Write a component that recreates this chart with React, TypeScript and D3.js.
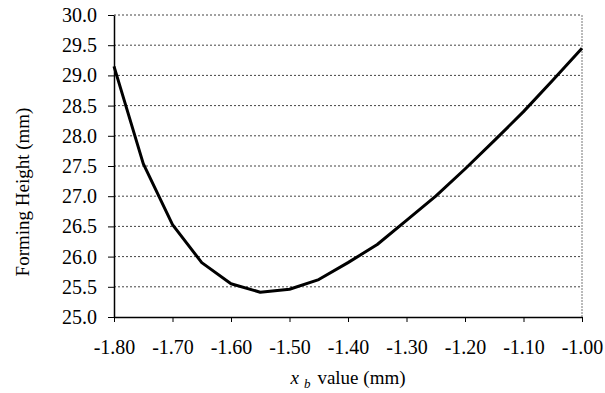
import React, { useEffect, useRef } from "react";
import * as d3 from "d3";

// x_b values (mm) and forming height (mm)
const xbValues = [-1.8, -1.75, -1.7, -1.65, -1.6, -1.55, -1.5, -1.45, -1.4, -1.35, -1.3, -1.25, -1.2, -1.15, -1.1, -1.05, -1.0];
const heights = [29.15, 27.54, 26.53, 25.9, 25.55, 25.41, 25.46, 25.62, 25.9, 26.2, 26.6, 27.0, 27.45, 27.92, 28.4, 28.92, 29.45];
const xTicks = [-1.8, -1.7, -1.6, -1.5, -1.4, -1.3, -1.2, -1.1, -1.0];
const yTicks = [25.0, 25.5, 26.0, 26.5, 27.0, 27.5, 28.0, 28.5, 29.0, 29.5, 30.0];

const W = 605;
const H = 393;
const margin = { top: 15, right: 23, bottom: 76, left: 114 };
const font = "Liberation Serif, Times New Roman, serif";

const App = () => {
    const svgRef = useRef<SVGSVGElement | null>(null);

    useEffect(() => {
        const svg = d3.select(svgRef.current);
        svg.selectAll("*").remove();

        const x = d3.scaleLinear().domain([-1.8, -1.0]).range([margin.left, W - margin.right]);
        const y = d3.scaleLinear().domain([25, 30]).range([H - margin.bottom, margin.top]);

        svg.append("rect").attr("width", W).attr("height", H).attr("fill", "#fff");

        // dotted gridlines
        svg.append("g")
            .selectAll("line")
            .data(yTicks.filter(d => d > 25))
            .enter()
            .append("line")
            .attr("x1", x(-1.8))
            .attr("x2", x(-1.0))
            .attr("y1", d => y(d))
            .attr("y2", d => y(d))
            .attr("stroke", "#444")
            .attr("stroke-width", 1)
            .attr("stroke-dasharray", "2,2");

        // right border
        svg.append("line")
            .attr("x1", x(-1.0)).attr("x2", x(-1.0))
            .attr("y1", y(30)).attr("y2", y(25))
            .attr("stroke", "#777")
            .attr("stroke-dasharray", "2,1");

        // x axis
        const xAxis = d3.axisBottom(x)
            .tickValues(xTicks)
            .tickSize(5)
            .tickSizeOuter(0)
            .tickFormat(d3.format(".2f"));
        const gx = svg.append("g")
            .attr("transform", `translate(0, ${y(25)})`)
            .call(xAxis);
        gx.attr("font-family", font);
        gx.select(".domain").attr("stroke", "#000").attr("stroke-width", 1.5);
        gx.selectAll(".tick line").attr("stroke", "#000");
        gx.selectAll("text")
            .attr("y", 23)
            .attr("fill", "#000")
            .style("font-family", font)
            .style("font-size", "20px")
            .text((d: any) => d3.format(".2f")(d).replace("−", "-"));

        // y axis
        const yAxis = d3.axisLeft(y)
            .tickValues(yTicks)
            .tickSize(6)
            .tickSizeOuter(0)
            .tickFormat(d3.format(".1f"));
        const gy = svg.append("g")
            .attr("transform", `translate(${x(-1.8)}, 0)`)
            .call(yAxis);
        gy.attr("font-family", font);
        gy.select(".domain").attr("stroke", "#000").attr("stroke-width", 1.5);
        gy.selectAll(".tick line").attr("stroke", "#000");
        gy.selectAll("text")
            .attr("x", -17)
            .attr("fill", "#000")
            .style("font-family", font)
            .style("font-size", "20px");

        // curve
        const pts = xbValues.map((v, i) => [v, heights[i]] as [number, number]);
        svg.append("path")
            .datum(pts)
            .attr("fill", "none")
            .attr("stroke", "#000")
            .attr("stroke-width", 3)
            .attr("stroke-linejoin", "round")
            .attr("d", d3.line<[number, number]>().x(d => x(d[0])).y(d => y(d[1])));

        // axis titles
        const xt = svg.append("text")
            .attr("x", (x(-1.8) + x(-1.0)) / 2)
            .attr("y", 384)
            .attr("text-anchor", "middle")
            .style("font-family", font)
            .style("font-size", "19px");
        xt.append("tspan").style("font-style", "italic").text("x");
        xt.append("tspan").attr("dx", 5).attr("dy", 4).style("font-style", "italic").style("font-size", "13px").text("b");
        xt.append("tspan").attr("dx", 7).attr("dy", -4).text("value (mm)");

        svg.append("text")
            .attr("transform", "rotate(-90)")
            .attr("x", -192)
            .attr("y", 29)
            .attr("text-anchor", "middle")
            .style("font-family", font)
            .style("font-size", "19px")
            .text("Forming Height (mm)");
    }, []);

    return (
        <svg ref={svgRef} width={W} height={H} style={{ position: "absolute", left: 0, top: 0 }}></svg>
    );
};

export default App;
